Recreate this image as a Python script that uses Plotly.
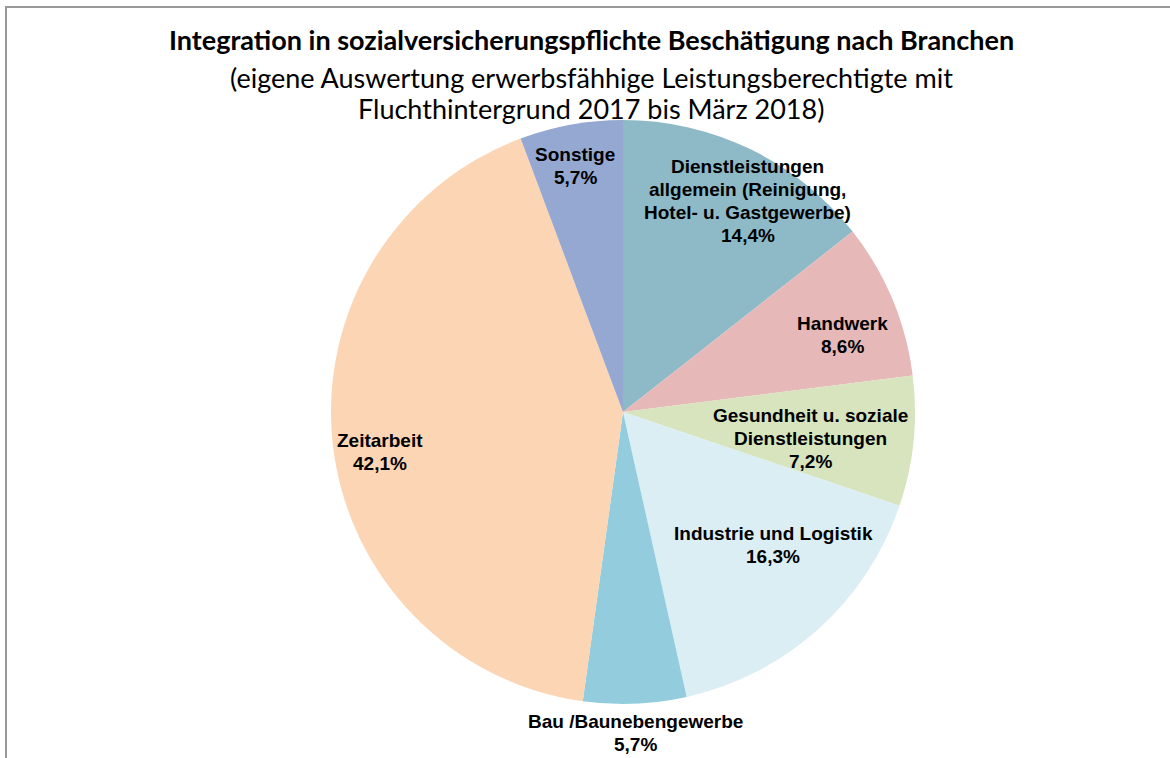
import plotly.graph_objects as go

# ---- data ----
categories = [
    "Dienstleistungen allgemein (Reinigung, Hotel- u. Gastgewerbe)",
    "Handwerk",
    "Gesundheit u. soziale Dienstleistungen",
    "Industrie und Logistik",
    "Bau /Baunebengewerbe",
    "Zeitarbeit",
    "Sonstige",
]
label_lines = [
    ["Dienstleistungen", "allgemein (Reinigung,", "Hotel- u. Gastgewerbe)"],
    ["Handwerk"],
    ["Gesundheit u. soziale", "Dienstleistungen"],
    ["Industrie und Logistik"],
    ["Bau /Baunebengewerbe"],
    ["Zeitarbeit"],
    ["Sonstige"],
]
values = [14.4, 8.6, 7.2, 16.3, 5.7, 42.1, 5.7]
colors = ["#8EBAC7", "#E6B9B8", "#D7E4BD", "#DBEEF4", "#93CDDD", "#FCD5B5", "#95A8D1"]

title_lines = [
    "Integration in sozialversicherungspflichte Beschätigung nach Branchen",
    "(eigene Auswertung erwerbsfähhige Leistungsberechtigte mit",
    "Fluchthintergrund 2017 bis März 2018)",
]

W, H = 1170, 758

# label anchor positions in pixels (layout only)
label_pos = [(748, 201), (842, 335), (810, 438), (773, 545), (635, 733), (380, 452), (575, 166)]
LINE_H = 23

def px(x, y):
    return x / W, 1 - y / H

fig = go.Figure()
cx, cy, r = 623, 412, 292
fig.add_trace(go.Pie(
    labels=categories,
    values=values,
    sort=False,
    direction="clockwise",
    rotation=0,
    marker=dict(colors=colors, line=dict(width=0)),
    textinfo="none",
    hoverinfo="label+percent",
    showlegend=False,
    domain=dict(x=[(cx - r) / W, (cx + r) / W], y=[1 - (cy + r) / H, 1 - (cy - r) / H]),
))

annotations = []
for lines, v, (lx, ly) in zip(label_lines, values, label_pos):
    all_lines = lines + [f"{v:.1f}%".replace(".", ",")]
    n = len(all_lines)
    for i, t in enumerate(all_lines):
        x, y = px(lx, ly + (i - (n - 1) / 2) * LINE_H)
        annotations.append(dict(
            x=x, y=y, xref="paper", yref="paper", text=t, showarrow=False,
            xanchor="center", yanchor="middle", align="center",
            font=dict(family="Liberation Sans, Arial", size=19, color="#000000", weight="bold"),
        ))

title_y = [40, 77, 108]
for i, (t, ty) in enumerate(zip(title_lines, title_y)):
    x, y = px(591, ty)
    annotations.append(dict(
        x=x, y=y, xref="paper", yref="paper", text=t, showarrow=False,
        xanchor="center", yanchor="middle",
        font=dict(family="Lato, Open Sans", size=27, color="#000000",
                  weight="bold" if i == 0 else "normal"),
    ))

fig.update_layout(
    width=W, height=H,
    margin=dict(l=0, r=0, t=0, b=0),
    paper_bgcolor="white", plot_bgcolor="white",
    annotations=annotations,
    shapes=[dict(type="rect", xref="paper", yref="paper",
                 x0=6 / W, x1=1.02, y0=-0.02, y1=1 - 7 / H,
                 line=dict(color="#999999", width=2), fillcolor="rgba(0,0,0,0)")],
)

fig.write_html(
    "out.html",
    config={"displayModeBar": False},
    post_script="document.body.style.margin='0';document.body.style.overflow='hidden';",
)
